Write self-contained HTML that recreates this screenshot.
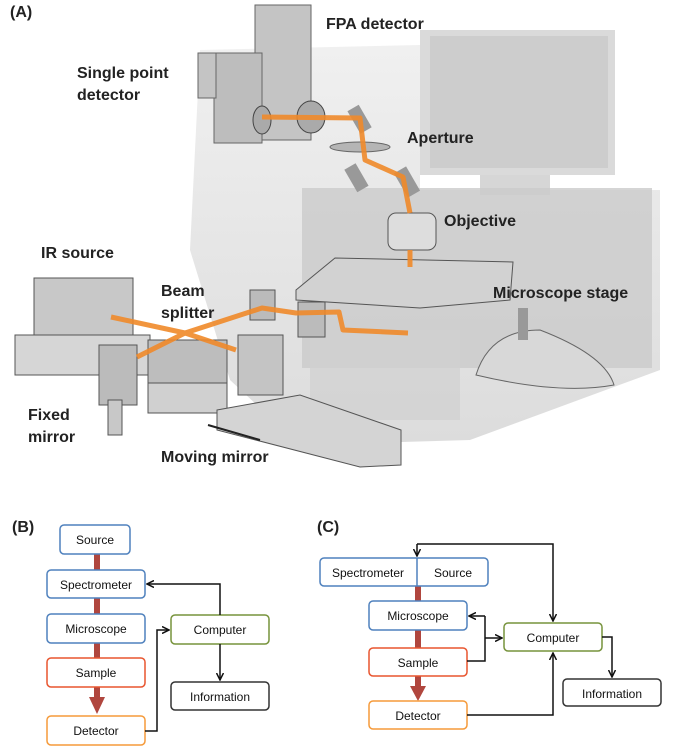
<!DOCTYPE html>
<html><head><meta charset="utf-8"><style>
body{margin:0;background:#fff}
svg{position:absolute;left:0;top:0}
</style></head><body>
<svg width="673" height="750" viewBox="0 0 673 750" xmlns="http://www.w3.org/2000/svg" font-family="Liberation Sans, sans-serif">
<defs>
<linearGradient id="g1" x1="0" y1="0" x2="0" y2="1"><stop offset="0" stop-color="#f0f0f0"/><stop offset="1" stop-color="#dcdcdc"/></linearGradient>
<marker id="a" markerWidth="8" markerHeight="8" refX="7" refY="4" orient="auto" markerUnits="userSpaceOnUse"><path d="M0,0.5 L7,4 L0,7.5" fill="none" stroke="#111" stroke-width="1.5"/></marker>
</defs>
<!-- ghost microscope -->
<path d="M200,50 L420,45 L420,190 L660,190 L660,370 L470,440 L300,445 L230,380 L190,250 Z" fill="url(#g1)"/>
<rect x="420" y="30" width="195" height="145" fill="#dadada"/>
<rect x="430" y="36" width="178" height="132" fill="#cdcdcd"/>
<rect x="480" y="175" width="70" height="20" fill="#d6d6d6"/>
<rect x="302" y="188" width="350" height="180" fill="#cbcbcb" opacity="0.8"/>
<rect x="310" y="330" width="150" height="90" fill="#d0d0d0" opacity="0.7"/>
<!-- detectors -->
<rect x="255" y="5" width="56" height="135" fill="#c4c4c4" stroke="#666"/>
<rect x="214" y="53" width="48" height="90" fill="#bdbdbd" stroke="#666"/>
<rect x="198" y="53" width="18" height="45" fill="#c4c4c4" stroke="#666"/>
<ellipse cx="311" cy="117" rx="14" ry="16" fill="#aaa" stroke="#444"/>
<ellipse cx="262" cy="120" rx="9" ry="14" fill="#aaa" stroke="#444"/>
<!-- mirrors, aperture -->
<rect x="353" y="106" width="13" height="26" fill="#999" transform="rotate(-30 360 119)"/>
<ellipse cx="360" cy="147" rx="30" ry="5" fill="#b5b5b5" stroke="#666"/>
<rect x="350" y="165" width="13" height="26" fill="#999" transform="rotate(-30 356 178)"/>
<rect x="400" y="168" width="14" height="28" fill="#999" transform="rotate(-30 407 182)"/>
<!-- objective & stage -->
<rect x="388" y="213" width="48" height="37" rx="8" fill="#ddd" stroke="#555"/>
<path d="M296,290 L335,258 L513,262 L510,300 L420,308 L296,300 Z" fill="#d2d2d2" stroke="#555"/>
<!-- joystick -->
<path d="M476,375 Q490,330 540,330 Q605,355 614,385 Q560,395 476,375Z" fill="#d8d8d8" stroke="#666"/>
<rect x="518" y="308" width="10" height="32" fill="#999"/>
<!-- IR source + optics -->
<rect x="34" y="278" width="99" height="60" fill="#c8c8c8" stroke="#555"/>
<rect x="15" y="335" width="135" height="40" fill="#d6d6d6" stroke="#555"/>
<rect x="99" y="345" width="38" height="60" fill="#bbb" stroke="#555"/>
<rect x="108" y="400" width="14" height="35" fill="#c8c8c8" stroke="#555"/>
<rect x="148" y="340" width="79" height="43" fill="#bdbdbd" stroke="#555"/>
<rect x="148" y="383" width="79" height="30" fill="#d0d0d0" stroke="#555"/>
<rect x="238" y="335" width="45" height="60" fill="#c4c4c4" stroke="#555"/>
<path d="M217,410 L300,395 L401,430 L401,465 L360,467 L217,430Z" fill="#d4d4d4" stroke="#555"/>
<rect x="250" y="290" width="25" height="30" fill="#bbb" stroke="#555"/>
<rect x="298" y="302" width="27" height="35" fill="#bbb" stroke="#555"/>
<!-- beams -->
<g stroke="#f08a2a" stroke-width="5" fill="none" opacity="0.9" stroke-linejoin="round">
<path d="M111,317 L185,333 L262,308 L296,313 L339,312 L343,330 L408,333"/>
<path d="M185,333 L236,350"/>
<path d="M185,333 L137,357"/>
<path d="M262,117 L360,118 L365,160 L403,177 L410,213"/>
<path d="M410,250 L410,267"/>
</g>
<path d="M208,425 L260,440" stroke="#222" stroke-width="2"/>
<g font-size="16" font-weight="bold" fill="#222">
<text x="10" y="17">(A)</text>
<text x="326" y="29">FPA detector</text>
<text x="77" y="78">Single point</text>
<text x="77" y="100">detector</text>
<text x="407" y="143">Aperture</text>
<text x="444" y="226">Objective</text>
<text x="41" y="258">IR source</text>
<text x="161" y="296">Beam</text>
<text x="161" y="318">splitter</text>
<text x="493" y="298">Microscope stage</text>
<text x="28" y="420">Fixed</text>
<text x="28" y="442">mirror</text>
<text x="161" y="462">Moving mirror</text>
<text x="12" y="532">(B)</text>
<text x="317" y="532">(C)</text>
</g>
<!-- B -->
<rect x="94" y="554" width="6" height="150" fill="#b0463e"/>
<path d="M89,697 L105,697 L97,714Z" fill="#b0463e"/>
<g fill="#fff" stroke-width="1.5">
<rect x="60" y="525" width="70" height="29" rx="4" stroke="#4f81bd"/>
<rect x="47" y="570" width="98" height="28" rx="4" stroke="#4f81bd"/>
<rect x="47" y="614" width="98" height="29" rx="4" stroke="#4f81bd"/>
<rect x="47" y="658" width="98" height="29" rx="4" stroke="#e8552f"/>
<rect x="47" y="716" width="98" height="29" rx="4" stroke="#f59a3a"/>
<rect x="171" y="615" width="98" height="29" rx="4" stroke="#77933c"/>
<rect x="171" y="682" width="98" height="28" rx="4" stroke="#333"/>
</g>
<g fill="none" stroke="#111" stroke-width="1.5">
<path d="M220,615 V584 H147" marker-end="url(#a)"/>
<path d="M145,731 H157 V630 H169" marker-end="url(#a)"/>
<path d="M220,644 V680" marker-end="url(#a)"/>
</g>
<g font-size="12" fill="#111" text-anchor="middle">
<text x="95" y="544">Source</text>
<text x="96" y="589">Spectrometer</text>
<text x="96" y="633">Microscope</text>
<text x="96" y="677">Sample</text>
<text x="96" y="735">Detector</text>
<text x="220" y="634">Computer</text>
<text x="220" y="701">Information</text>
</g>
<!-- C -->
<rect x="415" y="586" width="6" height="102" fill="#b0463e"/>
<path d="M410,686 L426,686 L418,701Z" fill="#b0463e"/>
<g fill="#fff" stroke-width="1.5">
<rect x="320" y="558" width="168" height="28" rx="4" stroke="#4f81bd"/>
<rect x="369" y="601" width="98" height="29" rx="4" stroke="#4f81bd"/>
<rect x="369" y="648" width="98" height="28" rx="4" stroke="#e8552f"/>
<rect x="369" y="701" width="98" height="28" rx="4" stroke="#f59a3a"/>
<rect x="504" y="623" width="98" height="28" rx="4" stroke="#77933c"/>
<rect x="563" y="679" width="98" height="27" rx="4" stroke="#333"/>
</g>
<line x1="417" y1="558" x2="417" y2="586" stroke="#4f81bd" stroke-width="1.5"/>
<g fill="none" stroke="#111" stroke-width="1.5">
<path d="M417,544 H553 V621" marker-end="url(#a)"/>
<path d="M417,544 V556" marker-end="url(#a)"/>
<path d="M485,616 H469" marker-end="url(#a)"/>
<path d="M467,661 H485 V616"/>
<path d="M485,638 H502" marker-end="url(#a)"/>
<path d="M467,715 H553 V653" marker-end="url(#a)"/>
<path d="M602,637 H612 V677" marker-end="url(#a)"/>
</g>
<g font-size="12" fill="#111" text-anchor="middle">
<text x="368" y="577">Spectrometer</text>
<text x="453" y="577">Source</text>
<text x="418" y="620">Microscope</text>
<text x="418" y="667">Sample</text>
<text x="418" y="720">Detector</text>
<text x="553" y="642">Computer</text>
<text x="612" y="698">Information</text>
</g>
</svg>
</body></html>
